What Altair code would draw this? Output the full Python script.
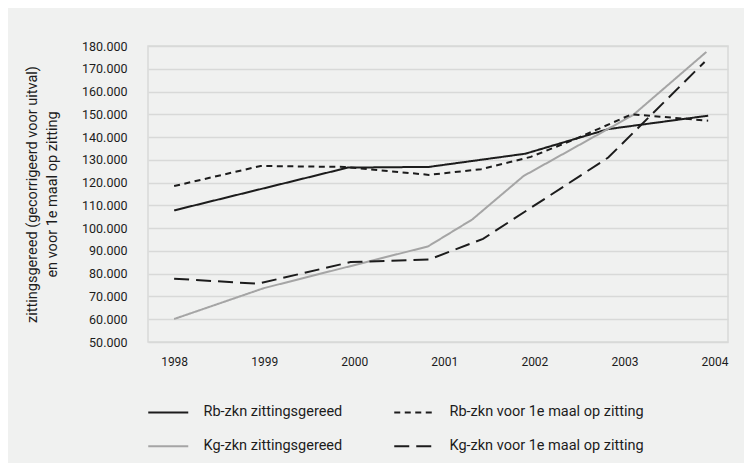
import altair as alt
import pandas as pd

series_names = [
    "Rb-zkn zittingsgereed",
    "Kg-zkn zittingsgereed",
    "Rb-zkn voor 1e maal op zitting",
    "Kg-zkn voor 1e maal op zitting",
]

rb_zg_x = [1998.0, 1999.93, 2000.83, 2001.9, 2002.82, 2003.93]
rb_zg_y = [107800, 126600, 126900, 132700, 143500, 149400]
kg_zg_x = [1998.0, 1999.0, 2000.82, 2001.31, 2001.88, 2003.1, 2003.91]
kg_zg_y = [60100, 73700, 92000, 103800, 122900, 149800, 177400]
rb_v1_x = [1998.0, 1998.96, 1999.89, 2000.83, 2001.41, 2001.96, 2002.43, 2003.08, 2003.93]
rb_v1_y = [118500, 127300, 126900, 123400, 125900, 131300, 138700, 150000, 147200]
kg_v1_x = [1998.0, 1998.93, 1999.96, 2000.83, 2001.43, 2002.82, 2003.89]
kg_v1_y = [77800, 75600, 85100, 86200, 95300, 131000, 173000]

year_ticks = [1998, 1999, 2000, 2001, 2002, 2003, 2004]
value_ticks = list(range(50000, 180001, 10000))

rows = []
for name, xs, ys in zip(
    series_names,
    [rb_zg_x, kg_zg_x, rb_v1_x, kg_v1_x],
    [rb_zg_y, kg_zg_y, rb_v1_y, kg_v1_y],
):
    for i, (x, y) in enumerate(zip(xs, ys)):
        rows.append({"serie": name, "jaar": x, "aantal": y, "idx": i})
df = pd.DataFrame(rows)

colors = ["#1c1c1c", "#a5a5a5", "#1c1c1c", "#1c1c1c"]
dashes = [[1, 0], [1, 0], [6, 4.5], [15, 7]]

legend_kw = dict(
    title=None,
    orient="none",
    legendX=13,
    legendY=359,
    columns=2,
    columnPadding=47,
    rowPadding=19,
    symbolType="M-4,0H4",
    symbolSize=100,
    symbolStrokeWidth=2,
    labelFontSize=14.5,
    labelOffset=28,
    labelLimit=400,
    labelColor="#1c1c1c",
    padding=0,
)

chart = (
    alt.Chart(df)
    .mark_line(strokeWidth=2)
    .encode(
        x=alt.X(
            "jaar:Q",
            scale=alt.Scale(domain=[1997.71, 2004.15], nice=False, zero=False),
            axis=alt.Axis(
                values=year_ticks,
                format="d",
                title=None,
                grid=False,
                ticks=False,
                domain=False,
                labelPadding=14,
                labelFontSize=12,
            ),
        ),
        y=alt.Y(
            "aantal:Q",
            scale=alt.Scale(domain=[50000, 180000], nice=False, zero=False),
            axis=alt.Axis(
                values=value_ticks,
                labelExpr="replace(format(datum.value, ',d'), ',', '.')",
                title=["zittingsgereed (gecorrigeerd voor uitval)", "en voor 1e maal op zitting"],
                titleFontSize=14.5,
                titleFontWeight="normal",
                titleLineHeight=20,
                titlePadding=22,
                grid=True,
                gridColor="#d8d9d8",
                gridWidth=1.5,
                ticks=False,
                domain=False,
                labelPadding=21,
                labelFontSize=12.5,
            ),
        ),
        color=alt.Color(
            "serie:N",
            scale=alt.Scale(domain=series_names, range=colors),
            legend=alt.Legend(**legend_kw),
        ),
        strokeDash=alt.StrokeDash(
            "serie:N",
            scale=alt.Scale(domain=series_names, range=dashes),
            legend=alt.Legend(**legend_kw),
        ),
        order="idx:Q",
    )
    .properties(
        width=580,
        height=296,
        autosize=alt.AutoSizeParams(type="none"),
        padding={"left": 140, "top": 38, "right": 16, "bottom": 121},
    )
    .configure(background="#f0f1f0", font="Roboto")
    .configure_view(stroke="#d8d9d8", strokeWidth=1.5)
    .configure_axis(labelColor="#1c1c1c", titleColor="#1c1c1c", labelFont="Roboto", titleFont="Roboto")
    .configure_legend(labelFont="Roboto")
)

chart.save("out.html", embed_options={"renderer": "svg", "actions": False})
